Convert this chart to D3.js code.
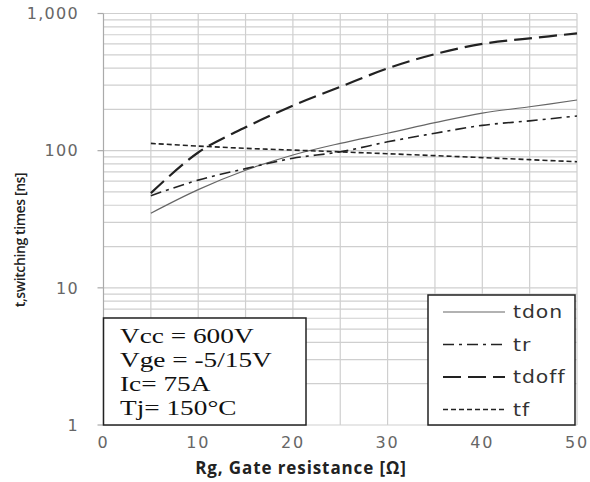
<!DOCTYPE html>
<html>
<head>
<meta charset="utf-8">
<script src="https://cdnjs.cloudflare.com/ajax/libs/d3/7.8.5/d3.min.js"></script>
<style>
  body { margin: 0; background: #fff; }
  svg { display: block; }
</style>
</head>
<body>
<svg width="590" height="482"></svg>
<script>
// values (Rg in ohm, times in ns)
var rg = [5, 10, 15, 20, 25, 30, 35, 40, 45, 50];
var tdon = [35, 52, 72, 93, 113, 134, 160, 188, 209, 234];
var tr = [47, 61, 74, 88, 98, 116, 134, 153, 165, 179];
var tdoff = [49, 97, 148, 213, 292, 398, 506, 600, 659, 716];
var tf = [113, 108, 104, 101, 98, 95, 92, 89, 86, 83];

var xTicks = [0, 10, 20, 30, 40, 50];
var yTicks = [1, 10, 100, 1000];
var conditions = ["Vcc = 600V", "Vge = -5/15V", "Ic= 75A", "Tj= 150\u00b0C"];

var series = [
    { name: "tdon", values: tdon, color: "#666", width: 1.2, dash: null },
    { name: "tr", values: tr, color: "#222", width: 1.6, dash: "11,5,3,5" },
    { name: "tdoff", values: tdoff, color: "#222", width: 2.2, dash: "18,7" },
    { name: "tf", values: tf, color: "#222", width: 1.6, dash: "5,3" }
];

var svg = d3.select("svg");

var x = d3.scaleLinear().domain([0, 50]).range([103.5, 577]);
var y = d3.scaleLog().domain([1, 1000]).range([425, 13.5]);

// grid
var grid = svg.append("g");
grid.selectAll("line.v")
    .data(d3.range(5, 51, 5))
    .enter().append("line")
    .attr("x1", function (d) { return x(d); })
    .attr("x2", function (d) { return x(d); })
    .attr("y1", y(1000))
    .attr("y2", y(1))
    .attr("stroke", "#cfcfcf")
    .attr("stroke-width", 1.2);

grid.selectAll("line.h")
    .data(y.ticks())
    .enter().append("line")
    .attr("x1", x(0))
    .attr("x2", x(50))
    .attr("y1", function (d) { return y(d); })
    .attr("y2", function (d) { return y(d); })
    .attr("stroke", "#cfcfcf")
    .attr("stroke-width", 1.2);

// left axis line + ticks
svg.append("line")
    .attr("x1", x(0)).attr("x2", x(0))
    .attr("y1", y(1000)).attr("y2", y(1))
    .attr("stroke", "#aaa").attr("stroke-width", 1.2);

svg.append("g").selectAll("line")
    .data(yTicks)
    .enter().append("line")
    .attr("x1", x(0) - 6).attr("x2", x(0))
    .attr("y1", function (d) { return y(d); })
    .attr("y2", function (d) { return y(d); })
    .attr("stroke", "#aaa").attr("stroke-width", 1.2);

// tick labels
svg.append("g").selectAll("text")
    .data(yTicks)
    .enter().append("text")
    .attr("x", 79)
    .attr("y", function (d) { return y(d); })
    .attr("dy", "0.36em")
    .attr("text-anchor", "end")
    .style("font-family", "DejaVu Sans")
    .style("font-size", "16px")
    .style("letter-spacing", "1.3px")
    .attr("fill", "#666")
    .text(function (d) { return d3.format(",")(d); });

svg.append("g").selectAll("text")
    .data(xTicks)
    .enter().append("text")
    .attr("x", function (d) { return x(d); })
    .attr("y", 448)
    .attr("text-anchor", "middle")
    .style("font-family", "DejaVu Sans")
    .style("font-size", "16px")
    .style("letter-spacing", "1.8px")
    .attr("fill", "#666")
    .text(function (d) { return d; });

// axis titles
svg.append("text")
    .attr("x", 301)
    .attr("y", 474)
    .attr("text-anchor", "middle")
    .style("font-family", "Open Sans")
    .style("font-weight", "bold")
    .style("font-size", "17px")
    .style("letter-spacing", "0.9px")
    .attr("fill", "#222")
    .text("Rg, Gate resistance [\u03a9]");

svg.append("text")
    .attr("transform", "translate(25,240) rotate(-90)")
    .attr("text-anchor", "middle")
    .style("font-family", "Open Sans")
    .style("font-weight", "600")
    .style("font-size", "14px")
    .style("letter-spacing", "-0.4px")
    .attr("fill", "#222")
    .text("t,switching times [ns]");

// curves
var line = d3.line()
    .x(function (d) { return x(d[0]); })
    .y(function (d) { return y(d[1]); })
    .curve(d3.curveCatmullRom);

svg.append("g").selectAll("path")
    .data(series)
    .enter().append("path")
    .attr("d", function (s) { return line(d3.zip(rg, s.values)); })
    .attr("fill", "none")
    .attr("stroke", function (s) { return s.color; })
    .attr("stroke-width", function (s) { return s.width; })
    .attr("stroke-dasharray", function (s) { return s.dash; });

// conditions box
svg.append("rect")
    .attr("x", x(0)).attr("y", 318)
    .attr("width", 306 - x(0)).attr("height", y(1) - 318)
    .attr("fill", "#fff").attr("stroke", "#222").attr("stroke-width", 1.5);

svg.append("g").selectAll("text")
    .data(conditions)
    .enter().append("text")
    .attr("transform", function (d, i) { return "translate(120," + (343 + i * 24) + ") scale(1.3,1)"; })
    .style("font-family", "Liberation Serif")
    .style("font-size", "21px")
    .attr("fill", "#111")
    .text(function (d) { return d; });

// legend
svg.append("rect")
    .attr("x", 428).attr("y", 295)
    .attr("width", 147).attr("height", y(1) - 295)
    .attr("fill", "#fff").attr("stroke", "#222").attr("stroke-width", 1.5);

var leg = svg.append("g").selectAll("g")
    .data(series)
    .enter().append("g")
    .attr("transform", function (d, i) { return "translate(0," + (312 + i * 32.5) + ")"; });

leg.append("line")
    .attr("x1", 443).attr("x2", 505)
    .attr("stroke", function (s) { return s.color; })
    .attr("stroke-width", function (s) { return s.width; })
    .attr("stroke-dasharray", function (s) { return s.dash; });

leg.append("text")
    .attr("transform", "translate(513,0) scale(1.2,1)")
    .attr("dy", "0.36em")
    .style("font-family", "DejaVu Sans")
    .style("font-size", "17px")
    .style("letter-spacing", "0.8px")
    .attr("fill", "#333")
    .text(function (s) { return s.name; });
</script>
</body>
</html>
